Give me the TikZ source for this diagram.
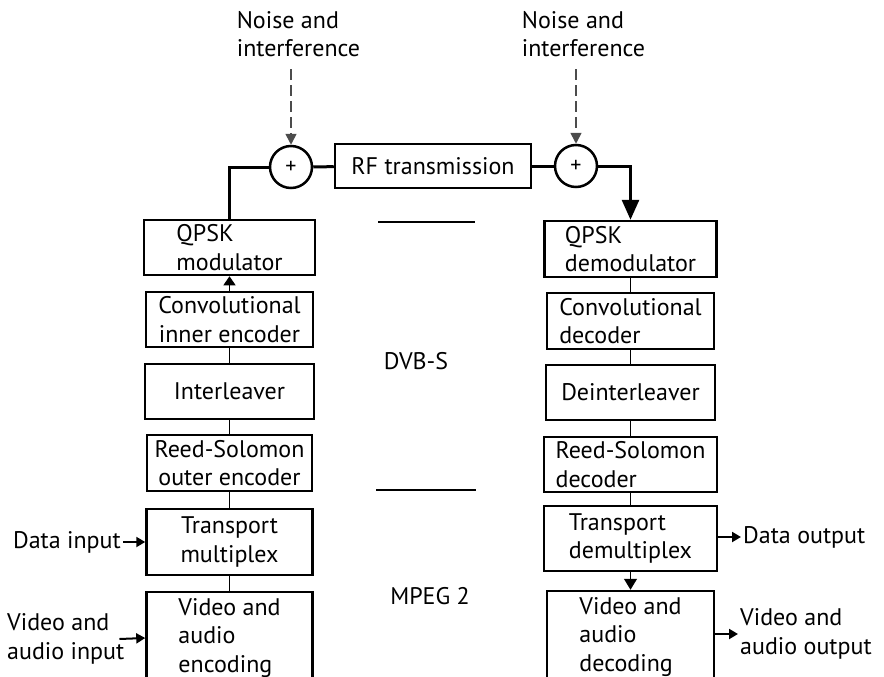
\documentclass[tikz,border=0pt]{standalone}
\usepackage{fontspec}
\setmainfont{PT Sans}
\usetikzlibrary{arrows.meta}

\newcommand\blkfont{\fontsize{24}{28.5}\selectfont}
\tikzset{
  blk/.style={draw,line width=2.5pt,inner sep=0pt,minimum width=168pt,minimum height=55pt,align=center,font=\blkfont},
  adder/.style={draw,circle,line width=2.5pt,minimum size=42pt,inner sep=0pt,font=\fontsize{22}{22}\selectfont},
  lbl/.style={inner sep=2pt,align=left,font=\blkfont},
  link/.style={line width=1.3pt},
  bus/.style={line width=3pt},
  into/.style={line width=2pt,-{Triangle[length=9pt,width=10pt]}},
  noise/.style={draw=black!70,line width=1.6pt,dash pattern=on 11pt off 5pt,-{Triangle[length=11pt,width=11pt]}}
}

\begin{document}
\begin{tikzpicture}[x=1pt,y=-1pt]
  \useasboundingbox (0,0) rectangle (884,677);
  % transmitter side
  \node[blk,minimum width=171pt,align=left] (qpskmod) at (229.5,247.5) {QPSK\\modulator};
  \node[blk,minimum width=167pt] (convenc) at (229.5,319.5) {Convolutional\\inner encoder};
  \node[blk,minimum width=169pt] (intlv) at (229.5,391.5) {Interleaver};
  \node[blk,minimum width=165pt,minimum height=56pt] (rsenc) at (229.5,463) {Reed-Solomon\\outer encoder};
  \node[blk,minimum width=166pt,minimum height=66pt] (tmux) at (229.5,542) {Transport\\multiplex};
  \node[blk,minimum width=166pt,minimum height=92pt,align=left] (vaenc) at (229.5,638) {Video and\\audio\\encoding};
  % receiver side
  \node[blk,minimum width=172pt,minimum height=56pt,align=left] (qpskdem) at (630.5,249) {QPSK\\demodulator};
  \node[blk,minimum width=167pt,minimum height=56pt,align=left] (convdec) at (630.5,321) {Convolutional\\decoder};
  \node[blk,minimum width=169pt] (deintlv) at (630.5,392.5) {Deinterleaver};
  \node[blk,minimum width=173pt,align=left] (rsdec) at (630.5,464.5) {Reed-Solomon\\decoder};
  \node[blk,minimum width=173pt,minimum height=65pt,align=left] (tdemux) at (630.5,538.5) {Transport\\demultiplex};
  \node[blk,minimum width=167pt,minimum height=92pt,align=left] (vadec) at (630.5,637) {Video and\\audio\\decoding};
  % channel
  \node[adder] (addl) at (291,167) {+};
  \node[adder] (addr) at (576,166) {+};
  \node[blk,minimum width=196pt,minimum height=44pt] (rf) at (433,166) {RF transmission};
  \node[lbl] (noisel) at (298.5,34) {Noise and\\interference};
  \node[lbl] (noiser) at (583.5,34) {Noise and\\interference};
  \draw[noise,shorten <=10pt] (noisel.south -| addl) -- (addl);
  \draw[noise,shorten <=10pt] (noiser.south -| addr) -- (addr);
  \draw[bus] (qpskmod.north) |- (addl.west);
  \draw[bus] (addl) -- (rf);
  \draw[bus] (rf) -- (addr);
  \draw[bus,-{Triangle[length=20pt,width=17pt]}] (addr.east) -| (qpskdem.north);
  % chains
  \draw[link,-{Triangle[length=9pt,width=12pt]}] (convenc) -- (qpskmod);
  \foreach \a/\b in {intlv/convenc,rsenc/intlv,tmux/rsenc,vaenc/tmux,qpskdem/convdec,convdec/deintlv,deintlv/rsdec,rsdec/tdemux}
    \draw[link] (\a) -- (\b);
  \draw[link,-{Triangle[length=11pt,width=13pt]}] (tdemux) -- (vadec);
  % inputs and outputs
  \node[lbl,anchor=east] (datain) at (123,542) {Data input};
  \draw[into] (datain) -- (tmux);
  \node[lbl,anchor=west] (vain) at (5,639) {Video and\\audio input};
  \draw[into] ([xshift=-7pt]vain.east) -- (vaenc.west);
  \node[lbl,anchor=west] (dataout) at (741,537) {Data output};
  \draw[into] (tdemux.east |- dataout) -- (dataout);
  \node[lbl,anchor=west] (vaout) at (738,634) {Video and\\audio output};
  \draw[into] (vadec.east |- vaout) -- (vaout);
  % layers
  \draw[link] (378,222) -- (475,222);
  \draw[link] (376,490) -- (476,490);
  \node[font=\blkfont] (dvbs) at (416,361) {DVB-S};
  \node[font=\blkfont] (mpeg) at (430,596) {MPEG 2};
\end{tikzpicture}
\end{document}
